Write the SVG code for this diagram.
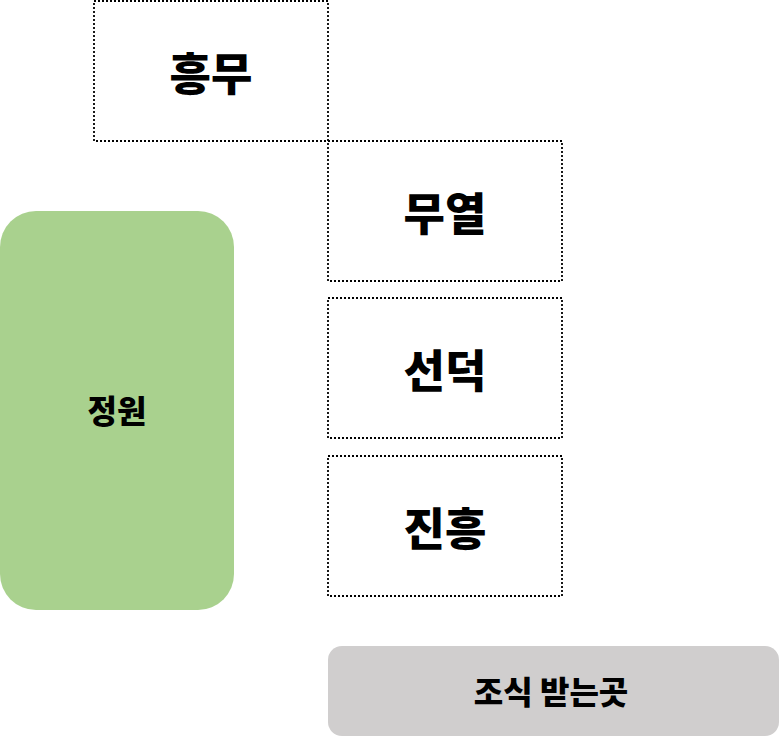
<svg xmlns="http://www.w3.org/2000/svg" width="779" height="737" viewBox="0 0 779 737">
<style>
.box{fill:#ffffff;stroke:#000000;stroke-width:1.8;stroke-dasharray:2 2;}
.big{font-family:"Noto Sans CJK KR","Noto Sans",sans-serif;font-weight:900;font-size:45px;fill:#000;text-anchor:middle;dominant-baseline:central;}
.mid{font-family:"Noto Sans CJK KR","Noto Sans",sans-serif;font-weight:900;font-size:32px;fill:#000;text-anchor:middle;dominant-baseline:central;}
</style>
<rect width="779" height="737" fill="#ffffff"/>
<g id="heungmu"><rect class="box" x="94" y="1" width="234" height="140"/><text class="big" x="211" y="71">흥무</text></g>
<g id="muyeol"><rect class="box" x="328" y="141" width="234" height="140"/><text class="big" x="445" y="211">무열</text></g>
<g id="seondeok"><rect class="box" x="328" y="298" width="234" height="140"/><text class="big" x="445" y="368">선덕</text></g>
<g id="jinheung"><rect class="box" x="328" y="456" width="234" height="140"/><text class="big" x="445" y="526">진흥</text></g>
<g id="jeongwon"><rect x="0" y="211" width="234" height="399" rx="36" ry="36" fill="#a9d18e"/><text class="mid" x="117" y="409">정원</text></g>
<g id="breakfast"><rect x="328" y="646" width="451" height="90" rx="14" ry="14" fill="#d0cece"/><text class="mid" x="551" y="690">조식 받는곳</text></g>
<g id="connectors"></g>
</svg>
